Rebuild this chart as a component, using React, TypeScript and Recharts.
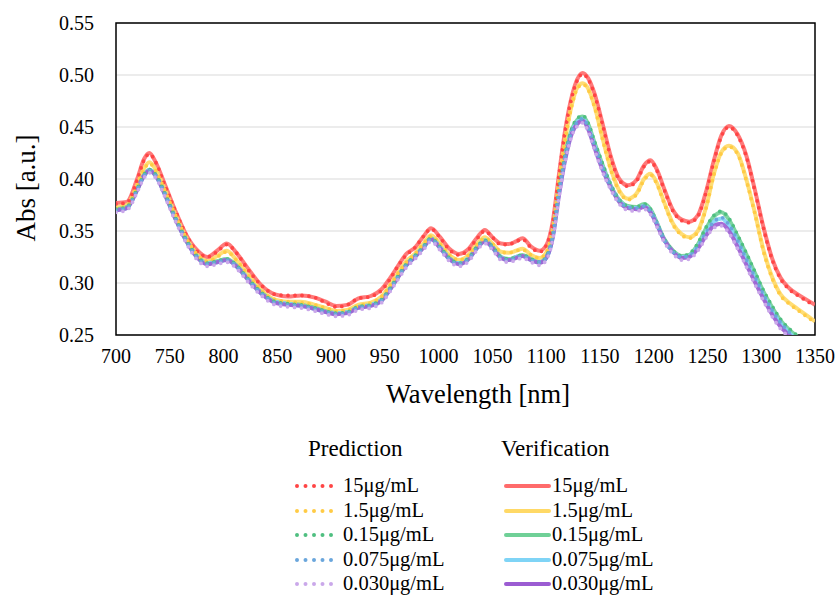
import { LineChart, Line, XAxis, YAxis, CartesianGrid, ReferenceArea } from 'recharts'

const wavelengths = [
  700, 710, 720, 726, 731, 737, 745, 755, 765, 775, 785, 794, 803, 812, 822,
  835, 848, 860, 872, 885, 895, 905, 915, 925,
  937, 947, 955, 962, 970, 978, 986, 993, 1001,
  1010, 1019, 1028, 1036, 1043, 1050, 1058, 1065, 1072, 1078, 1086, 1094, 1100,
  1106, 1112, 1118, 1124, 1129, 1134, 1139, 1145, 1152, 1160,
  1168, 1176, 1184, 1191, 1197, 1203, 1210, 1218, 1226, 1233, 1241, 1249,
  1256, 1263, 1270, 1278, 1286, 1294, 1302, 1310, 1318, 1326, 1334, 1342, 1350,
]

// verification (solid)
const ver15 = [
  0.377, 0.378, 0.401, 0.419, 0.425, 0.416, 0.396, 0.37, 0.347, 0.332, 0.325, 0.331, 0.338, 0.329, 0.315,
  0.298, 0.289, 0.287, 0.288, 0.286, 0.282, 0.278, 0.279, 0.285,
  0.2875, 0.294, 0.305, 0.316, 0.328, 0.334, 0.345, 0.3526, 0.3445,
  0.333, 0.328, 0.333, 0.344, 0.351, 0.344, 0.338, 0.3375, 0.34, 0.343, 0.335, 0.331, 0.336,
  0.358, 0.405, 0.449, 0.48, 0.496, 0.502, 0.497, 0.482, 0.455, 0.422,
  0.4, 0.394, 0.399, 0.413, 0.418, 0.409, 0.39, 0.37, 0.361, 0.359, 0.365, 0.389,
  0.418, 0.442, 0.451, 0.443, 0.423, 0.39, 0.354, 0.324, 0.305, 0.295, 0.289, 0.284, 0.279,
]
const ver1_5 = [
  0.373, 0.375, 0.395, 0.41, 0.416, 0.409, 0.391, 0.366, 0.344, 0.328, 0.321, 0.326, 0.331, 0.322, 0.309,
  0.293, 0.284, 0.282, 0.282, 0.279, 0.276, 0.273, 0.274, 0.279,
  0.281, 0.287, 0.298, 0.309, 0.321, 0.328, 0.338, 0.346, 0.338,
  0.327, 0.322, 0.327, 0.338, 0.344, 0.338, 0.33, 0.329, 0.331, 0.333, 0.327, 0.324, 0.329,
  0.35, 0.397, 0.44, 0.472, 0.488, 0.492, 0.487, 0.47, 0.441, 0.41,
  0.389, 0.381, 0.386, 0.4, 0.405, 0.396, 0.377, 0.357, 0.347, 0.344, 0.35, 0.374,
  0.405, 0.426, 0.432, 0.425, 0.4, 0.368, 0.332, 0.306, 0.289, 0.281, 0.275, 0.269, 0.263,
]
const ver0_15 = [
  0.371, 0.373, 0.391, 0.404, 0.409, 0.404, 0.387, 0.363, 0.342, 0.326, 0.319, 0.321, 0.323, 0.317, 0.305,
  0.291, 0.282, 0.28, 0.279, 0.276, 0.273, 0.271, 0.272, 0.277,
  0.279, 0.284, 0.295, 0.306, 0.318, 0.326, 0.335, 0.343, 0.335,
  0.324, 0.319, 0.324, 0.335, 0.341, 0.335, 0.325, 0.323, 0.325, 0.327, 0.323, 0.32, 0.325,
  0.345, 0.39, 0.425, 0.448, 0.457, 0.46, 0.453, 0.435, 0.415, 0.394,
  0.38, 0.374, 0.373, 0.376, 0.371, 0.358, 0.342, 0.331, 0.326, 0.327, 0.337, 0.353,
  0.364, 0.368, 0.361, 0.345, 0.328, 0.31, 0.292, 0.277, 0.264, 0.255, 0.248, 0.241, 0.234,
]
const ver0_075 = [
  0.37, 0.372, 0.391, 0.403, 0.409, 0.403, 0.387, 0.363, 0.341, 0.326, 0.319, 0.32, 0.322, 0.316, 0.305,
  0.29, 0.282, 0.28, 0.278, 0.275, 0.272, 0.271, 0.272, 0.276,
  0.279, 0.284, 0.294, 0.306, 0.317, 0.326, 0.335, 0.342, 0.335,
  0.323, 0.319, 0.324, 0.334, 0.341, 0.334, 0.325, 0.322, 0.325, 0.326, 0.322, 0.32, 0.324,
  0.344, 0.387, 0.422, 0.446, 0.455, 0.458, 0.45, 0.432, 0.412, 0.393,
  0.379, 0.373, 0.372, 0.374, 0.369, 0.357, 0.341, 0.33, 0.325, 0.326, 0.335, 0.349,
  0.359, 0.362, 0.355, 0.34, 0.322, 0.305, 0.288, 0.273, 0.261, 0.252, 0.245, 0.238, 0.231,
]
const ver0_030 = [
  0.37, 0.372, 0.39, 0.403, 0.408, 0.403, 0.386, 0.362, 0.341, 0.325, 0.318, 0.32, 0.322, 0.316, 0.304,
  0.29, 0.281, 0.279, 0.278, 0.275, 0.272, 0.27, 0.271, 0.276,
  0.278, 0.283, 0.294, 0.305, 0.317, 0.325, 0.334, 0.342, 0.334,
  0.323, 0.318, 0.323, 0.334, 0.34, 0.334, 0.324, 0.322, 0.324, 0.326, 0.322, 0.3195, 0.324,
  0.343, 0.385, 0.42, 0.444, 0.453, 0.456, 0.448, 0.43, 0.41, 0.392,
  0.378, 0.372, 0.371, 0.373, 0.368, 0.356, 0.341, 0.33, 0.324, 0.325, 0.333, 0.346,
  0.355, 0.357, 0.35, 0.335, 0.318, 0.301, 0.285, 0.27, 0.258, 0.25, 0.242, 0.235, 0.228,
]

// prediction (dotted)
const pred15 = [
  0.376, 0.377, 0.4, 0.418, 0.424, 0.416, 0.395, 0.37, 0.347, 0.331, 0.325, 0.33, 0.337, 0.329, 0.314,
  0.298, 0.289, 0.288, 0.288, 0.286, 0.281, 0.277, 0.279, 0.285,
  0.287, 0.293, 0.304, 0.316, 0.327, 0.334, 0.345, 0.352, 0.344,
  0.332, 0.327, 0.332, 0.343, 0.35, 0.344, 0.337, 0.337, 0.34, 0.342, 0.334, 0.33, 0.336,
  0.357, 0.404, 0.448, 0.479, 0.495, 0.501, 0.496, 0.481, 0.454, 0.421,
  0.399, 0.393, 0.398, 0.412, 0.417, 0.408, 0.389, 0.369, 0.36, 0.358, 0.364, 0.388,
  0.417, 0.441, 0.45, 0.442, 0.422, 0.389, 0.353, 0.323, 0.304, 0.294, 0.288, 0.283, 0.278,
]
const pred1_5 = [
  0.372, 0.374, 0.394, 0.409, 0.415, 0.408, 0.39, 0.366, 0.344, 0.328, 0.321, 0.325, 0.33, 0.322, 0.309,
  0.293, 0.284, 0.282, 0.281, 0.279, 0.276, 0.273, 0.274, 0.278,
  0.281, 0.287, 0.298, 0.309, 0.32, 0.328, 0.338, 0.345, 0.338,
  0.327, 0.322, 0.327, 0.337, 0.343, 0.338, 0.33, 0.329, 0.331, 0.332, 0.327, 0.324, 0.329,
  0.349, 0.395, 0.439, 0.471, 0.487, 0.491, 0.486, 0.469, 0.44, 0.409,
  0.388, 0.38, 0.385, 0.399, 0.404, 0.395, 0.376, 0.356, 0.346, 0.343, 0.349, 0.373,
  0.404, 0.425, 0.431, 0.424, 0.399, 0.367, 0.331, 0.305, 0.288, 0.28, 0.274, 0.268, 0.262,
]
const pred0_15 = [
  0.371, 0.373, 0.391, 0.404, 0.409, 0.404, 0.387, 0.363, 0.342, 0.326, 0.319, 0.321, 0.323, 0.317, 0.305,
  0.291, 0.282, 0.28, 0.279, 0.276, 0.273, 0.271, 0.272, 0.277,
  0.279, 0.284, 0.295, 0.306, 0.318, 0.326, 0.335, 0.343, 0.335,
  0.324, 0.319, 0.324, 0.335, 0.341, 0.335, 0.325, 0.323, 0.325, 0.327, 0.323, 0.32, 0.325,
  0.345, 0.39, 0.425, 0.449, 0.458, 0.461, 0.454, 0.436, 0.416, 0.395,
  0.38, 0.374, 0.373, 0.376, 0.371, 0.358, 0.342, 0.331, 0.326, 0.328, 0.338, 0.354,
  0.365, 0.369, 0.362, 0.346, 0.329, 0.311, 0.293, 0.278, 0.265, 0.256, 0.249, 0.242, 0.235,
]
const pred0_075 = [
  0.37, 0.372, 0.39, 0.403, 0.408, 0.403, 0.386, 0.362, 0.341, 0.325, 0.318, 0.32, 0.322, 0.316, 0.304,
  0.29, 0.281, 0.279, 0.278, 0.275, 0.272, 0.27, 0.271, 0.276,
  0.278, 0.283, 0.294, 0.305, 0.317, 0.325, 0.334, 0.342, 0.334,
  0.323, 0.318, 0.323, 0.334, 0.34, 0.334, 0.324, 0.322, 0.324, 0.326, 0.322, 0.32, 0.324,
  0.344, 0.387, 0.422, 0.446, 0.455, 0.458, 0.45, 0.432, 0.412, 0.393,
  0.379, 0.373, 0.372, 0.374, 0.369, 0.357, 0.341, 0.33, 0.325, 0.326, 0.335, 0.349,
  0.359, 0.363, 0.356, 0.341, 0.323, 0.306, 0.289, 0.274, 0.262, 0.253, 0.246, 0.239, 0.232,
]
const pred0_030 = [
  0.368, 0.37, 0.388, 0.401, 0.406, 0.401, 0.384, 0.36, 0.339, 0.323, 0.316, 0.318, 0.32, 0.314, 0.302,
  0.288, 0.279, 0.277, 0.276, 0.273, 0.27, 0.268, 0.269, 0.274,
  0.276, 0.281, 0.292, 0.303, 0.315, 0.323, 0.332, 0.34, 0.332,
  0.321, 0.316, 0.321, 0.332, 0.338, 0.332, 0.322, 0.32, 0.322, 0.324, 0.32, 0.317, 0.322,
  0.341, 0.383, 0.418, 0.442, 0.451, 0.454, 0.446, 0.428, 0.408, 0.39,
  0.376, 0.37, 0.369, 0.371, 0.366, 0.354, 0.339, 0.328, 0.322, 0.323, 0.331, 0.344,
  0.353, 0.355, 0.348, 0.333, 0.316, 0.299, 0.283, 0.268, 0.256, 0.248, 0.24, 0.233, 0.226,
]

const xTicks = [700, 750, 800, 850, 900, 950, 1000, 1050, 1100, 1150, 1200, 1250, 1300, 1350]
const yTicks = [0.25, 0.3, 0.35, 0.4, 0.45, 0.5, 0.55]

const labels = ['15μg/mL', '1.5μg/mL', '0.15μg/mL', '0.075μg/mL', '0.030μg/mL']
const lineColors = ['#ff6b6b', '#ffd966', '#6fd097', '#7fd4f6', '#9b5cd2']
const dotColors = ['#ff4545', '#ffcb45', '#4fbf80', '#6aa6dc', '#caa8ea']

const verSeries = [ver15, ver1_5, ver0_15, ver0_075, ver0_030]
const predSeries = [pred15, pred1_5, pred0_15, pred0_075, pred0_030]

const data = wavelengths.map((w, i) => {
  const row: Record<string, number> = { w }
  verSeries.forEach((s, k) => (row[`v${k}`] = s[i]))
  predSeries.forEach((s, k) => (row[`p${k}`] = s[i]))
  return row
})

const font = '"Liberation Serif", "DejaVu Serif", serif'

function Legend() {
  const rowTop = 476
  const gap = 24.6
  return (
    <>
      <div style={{ position: 'absolute', left: 308, top: 436, fontSize: 23, fontFamily: font }}>Prediction</div>
      <div style={{ position: 'absolute', left: 501, top: 436, fontSize: 23, fontFamily: font }}>Verification</div>
      {labels.map((lab, k) => (
        <div key={k}>
          <svg
            style={{ position: 'absolute', left: 290, top: rowTop + k * gap }}
            width={52}
            height={20}
          >
            <line x1={7} y1={10} x2={48} y2={10} stroke={dotColors[k]} strokeWidth={4}
              strokeLinecap="round" strokeDasharray="0 8.5" />
          </svg>
          <div style={{ position: 'absolute', left: 343, top: rowTop + k * gap - 2, fontSize: 20.5, fontFamily: font }}>{lab}</div>
          <svg
            style={{ position: 'absolute', left: 500, top: rowTop + k * gap }}
            width={54}
            height={20}
          >
            <line x1={6} y1={10} x2={49} y2={10} stroke={lineColors[k]} strokeWidth={4} strokeLinecap="round" />
          </svg>
          <div style={{ position: 'absolute', left: 552, top: rowTop + k * gap - 2, fontSize: 20.5, fontFamily: font }}>{lab}</div>
        </div>
      ))}
    </>
  )
}

export default function App() {
  return (
    <div style={{ position: 'absolute', left: 0, top: 0, width: 835, height: 596, background: '#fff', color: '#000', fontFamily: font }}>
      <LineChart width={835} height={380} data={data} margin={{ top: 23, right: 20, bottom: 0, left: 0 }}>
        <CartesianGrid vertical={false} stroke="#d9d9d9" strokeWidth={1.2} />
        <XAxis
          dataKey="w"
          type="number"
          domain={[700, 1350]}
          ticks={xTicks}
          allowDataOverflow
          height={45}
          tickLine={false}
          axisLine={false}
          tickSize={0}
          tickMargin={14}
          tick={{ fill: '#000', fontSize: 20, fontFamily: font }}
        />
        <YAxis
          type="number"
          domain={[0.25, 0.55]}
          ticks={yTicks}
          allowDataOverflow
          width={116}
          tickLine={false}
          axisLine={false}
          tickSize={0}
          tickMargin={22}
          tickFormatter={(v) => Number(v).toFixed(2)}
          tick={{ fill: '#000', fontSize: 20, fontFamily: font }}
        />
        {verSeries.map((_, k) => (
          <Line key={`v${k}`} dataKey={`v${k}`} type="monotone" stroke={lineColors[k]} strokeWidth={4}
            strokeOpacity={0.9} dot={false} activeDot={false} isAnimationActive={false} />
        ))}
        {predSeries.map((_, k) => (
          <Line key={`p${k}`} dataKey={`p${k}`} type="monotone" stroke={dotColors[k]} strokeWidth={3.8}
            strokeLinecap="round" strokeDasharray="0 7" dot={false} activeDot={false} isAnimationActive={false} />
        ))}
        <ReferenceArea x1={700} x2={1350} y1={0.25} y2={0.55} fill="none" stroke="#000" strokeWidth={1.5}
          fillOpacity={0} ifOverflow="visible" />
      </LineChart>
      <div style={{ position: 'absolute', left: 26, top: 188, transform: 'translate(-50%, -50%) rotate(-90deg)', fontSize: 27, whiteSpace: 'nowrap' }}>
        Abs [a.u.]
      </div>
      <div style={{ position: 'absolute', left: 478, top: 394, transform: 'translate(-50%, -50%)', fontSize: 26.5, whiteSpace: 'nowrap' }}>
        Wavelength [nm]
      </div>
      <Legend />
    </div>
  )
}
